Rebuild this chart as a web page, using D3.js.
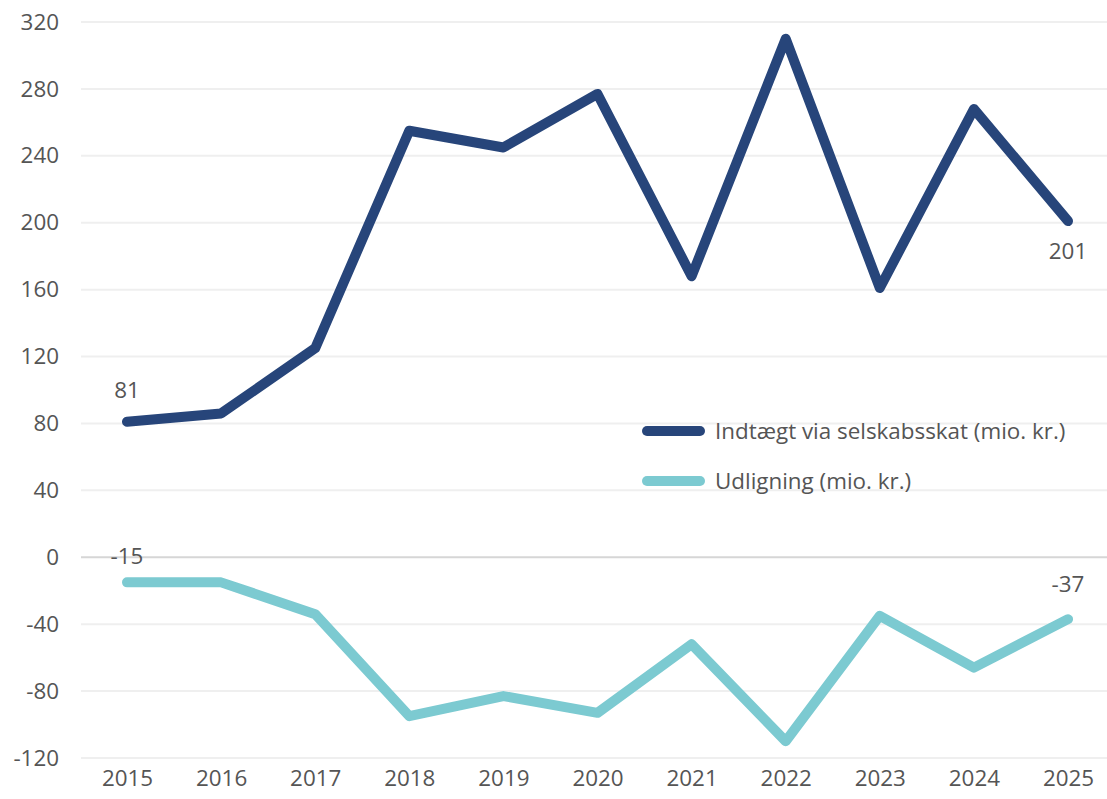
<!DOCTYPE html>
<html>
<head>
<meta charset="utf-8">
<script src="https://cdn.jsdelivr.net/npm/d3@7"></script>
<style>
  body { margin: 0; background: #fff; }
  text { font-family: "Open Sans", sans-serif; fill: #555; }
</style>
</head>
<body>
<div id="chart"></div>
<script>
var years = ['2015','2016','2017','2018','2019','2020','2021','2022','2023','2024','2025'];
var indtaegt = [81, 86, 125, 255, 245, 277, 168, 310, 161, 268, 201];
var udligning = [-15, -15, -34, -95, -83, -93, -52, -110, -35, -66, -37];
var yTicks = [-120, -80, -40, 0, 40, 80, 120, 160, 200, 240, 280, 320];
var seriesNames = ['Indtægt via selskabsskat (mio. kr.)', 'Udligning (mio. kr.)'];
var colors = ['#27457a', '#7ccad1'];

var width = 1107, height = 799;
var fontSize = 22.4;
var font = '"Open Sans", sans-serif';

var svg = d3.select('#chart').append('svg')
    .attr('width', width)
    .attr('height', height);

var x = d3.scalePoint().domain(years).range([127, 1068]);
var y = d3.scaleLinear().domain([-120, 320]).range([758, 22]);

// gridlines
svg.append('g').selectAll('line')
    .data(yTicks)
    .enter()
    .append('line')
    .attr('x1', 81)
    .attr('x2', width)
    .attr('y1', function(d){ return y(d); })
    .attr('y2', function(d){ return y(d); })
    .attr('stroke', function(d){ return d === 0 ? '#d6d6d6' : '#efefef'; })
    .attr('stroke-width', 2);

// y axis labels (plain hyphen, like the original)
var yAxis = d3.axisLeft(y).tickValues(yTicks).tickSize(0).tickPadding(0)
    .tickFormat(function(d){ return String(d); });
svg.append('g')
    .attr('transform', 'translate(59,0)')
    .call(yAxis)
    .call(function(g){ g.select('.domain').remove(); })
    .selectAll('text')
    .attr('font-size', fontSize)
    .attr('font-family', font)
    .attr('fill', '#555');

// x axis labels
var xAxis = d3.axisBottom(x).tickSize(0).tickPadding(0);
svg.append('g')
    .attr('transform', 'translate(0,770)')
    .call(xAxis)
    .call(function(g){ g.select('.domain').remove(); })
    .selectAll('text')
    .attr('font-size', fontSize)
    .attr('font-family', font)
    .attr('fill', '#555');

var line = d3.line()
    .x(function(d, i){ return x(years[i]); })
    .y(function(d){ return y(d); });

[indtaegt, udligning].forEach(function(series, k){
    svg.append('path')
        .datum(series)
        .attr('d', line)
        .attr('fill', 'none')
        .attr('stroke', colors[k])
        .attr('stroke-width', 10)
        .attr('stroke-linejoin', 'round')
        .attr('stroke-linecap', 'round');
});

// value labels (first and last)
var labels = [
    {year: years[0], v: indtaegt[0], dy: -24},
    {year: years[10], v: indtaegt[10], dy: 38},
    {year: years[0], v: udligning[0], dy: -18},
    {year: years[10], v: udligning[10], dy: -27}
];
svg.append('g').selectAll('text')
    .data(labels)
    .enter()
    .append('text')
    .attr('x', function(d){ return x(d.year); })
    .attr('y', function(d){ return y(d.v) + d.dy; })
    .attr('text-anchor', 'middle')
    .attr('font-size', fontSize)
    .attr('fill', '#444')
    .text(function(d){ return d.v; });

// legend
var legend = svg.append('g').selectAll('g')
    .data(seriesNames)
    .enter()
    .append('g')
    .attr('transform', function(d, i){ return 'translate(647,' + (431 + i * 50) + ')'; });

legend.append('line')
    .attr('x1', 0)
    .attr('x2', 53)
    .attr('stroke', function(d, i){ return colors[i]; })
    .attr('stroke-width', 10)
    .attr('stroke-linecap', 'round');

legend.append('text')
    .attr('x', 68)
    .attr('dy', '0.35em')
    .attr('font-size', fontSize)
    .attr('fill', '#555')
    .text(function(d){ return d; });
</script>
</body>
</html>
